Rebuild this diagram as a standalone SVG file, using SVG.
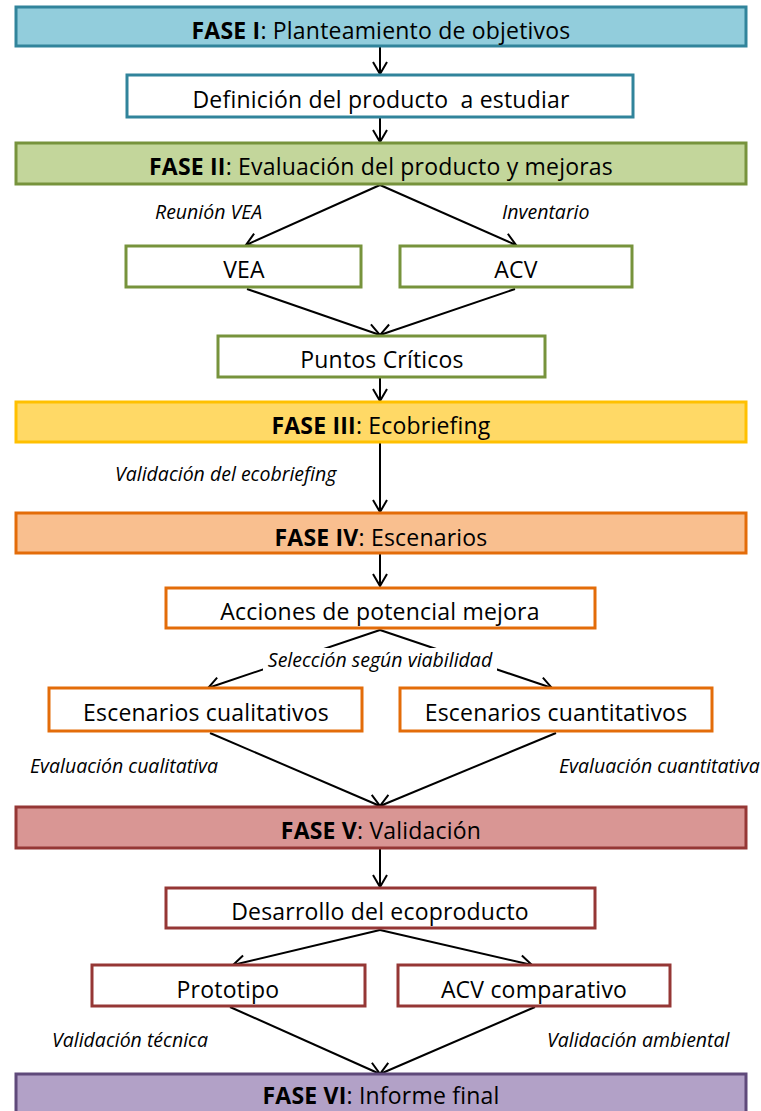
<svg xmlns="http://www.w3.org/2000/svg" width="761" height="1111" viewBox="0 0 761 1111">
<style>
.t{font-family:"Open Sans",Lato,sans-serif;font-size:23px;letter-spacing:0.2px;fill:#000;text-anchor:middle}
.b{font-weight:bold}
.l{font-family:"Open Sans",Lato,sans-serif;font-size:19.5px;font-style:italic;fill:#000}
.c{stroke:#000;stroke-width:2;fill:none}
.box{stroke-width:3}
</style>
<defs>
<marker id="ah" markerUnits="userSpaceOnUse" markerWidth="30" markerHeight="30" viewBox="-15 -15 30 30" refX="0" refY="0" orient="auto" overflow="visible">
<path d="M-12,-7 L0,0 L-12,7" fill="none" stroke="#000" stroke-width="2"/>
</marker>
</defs>
<g id="connectors">
<line class="c" x1="380" y1="46" x2="380" y2="74" marker-end="url(#ah)"/>
<line class="c" x1="380" y1="118" x2="380" y2="142" marker-end="url(#ah)"/>
<line class="c" x1="380" y1="185" x2="246" y2="245" marker-end="url(#ah)"/>
<line class="c" x1="380" y1="185" x2="516" y2="245" marker-end="url(#ah)"/>
<line class="c" x1="247" y1="289" x2="380" y2="335" marker-end="url(#ah)"/>
<line class="c" x1="515" y1="289" x2="380" y2="335" marker-end="url(#ah)"/>
<line class="c" x1="380" y1="378" x2="380" y2="401" marker-end="url(#ah)"/>
<line class="c" x1="380" y1="443" x2="380" y2="512" marker-end="url(#ah)"/>
<line class="c" x1="380" y1="554" x2="380" y2="586" marker-end="url(#ah)"/>
<line class="c" x1="380" y1="630" x2="208" y2="688" marker-end="url(#ah)"/>
<line class="c" x1="380" y1="630" x2="552" y2="688" marker-end="url(#ah)"/>
<line class="c" x1="210" y1="733" x2="380" y2="806" marker-end="url(#ah)"/>
<line class="c" x1="556" y1="733" x2="380" y2="806" marker-end="url(#ah)"/>
<line class="c" x1="380" y1="849" x2="380" y2="887" marker-end="url(#ah)"/>
<line class="c" x1="380" y1="930" x2="233" y2="965" marker-end="url(#ah)"/>
<line class="c" x1="380" y1="930" x2="532" y2="965" marker-end="url(#ah)"/>
<line class="c" x1="230" y1="1007" x2="380" y2="1074" marker-end="url(#ah)"/>
<line class="c" x1="535" y1="1007" x2="380" y2="1074" marker-end="url(#ah)"/>
</g>
<g id="labels">
<text class="l" x="155" y="219">Reunión VEA</text>
<text class="l" x="502" y="219">Inventario</text>
<text class="l" x="115" y="481">Validación del ecobriefing</text>
<rect x="263" y="648" width="234" height="24" fill="#fff"/>
<text class="l" x="380" y="667" text-anchor="middle">Selección según viabilidad</text>
<text class="l" x="30" y="773">Evaluación cualitativa</text>
<text class="l" x="559" y="773">Evaluación cuantitativa</text>
<text class="l" x="52" y="1047">Validación técnica</text>
<text class="l" x="547" y="1047">Validación ambiental</text>
</g>
<g id="fase1"><rect class="box" x="16" y="7" width="730" height="39" fill="#92CDDC" stroke="#31849B"/><text class="t" x="381" y="39"><tspan class="b">FASE I</tspan>: Planteamiento de objetivos</text></g>
<g id="definicion"><rect class="box" x="127" y="75" width="506" height="42" fill="#fff" stroke="#31849B"/><text class="t" x="381" y="108" xml:space="preserve">Definición del producto  a estudiar</text></g>
<g id="fase2"><rect class="box" x="16" y="143" width="730" height="41" fill="#C3D69B" stroke="#77933C"/><text class="t" x="381" y="175"><tspan class="b">FASE II</tspan>: Evaluación del producto y mejoras</text></g>
<g id="vea"><rect class="box" x="126" y="246" width="235" height="41" fill="#fff" stroke="#77933C"/><text class="t" x="244" y="278">VEA</text></g>
<g id="acv"><rect class="box" x="400" y="246" width="232" height="41" fill="#fff" stroke="#77933C"/><text class="t" x="516" y="278">ACV</text></g>
<g id="puntos"><rect class="box" x="218" y="336" width="327" height="41" fill="#fff" stroke="#77933C"/><text class="t" x="382" y="368">Puntos Críticos</text></g>
<g id="fase3"><rect class="box" x="16" y="402" width="730" height="40" fill="#FFD966" stroke="#FFC000"/><text class="t" x="381" y="434"><tspan class="b">FASE III</tspan>: Ecobriefing</text></g>
<g id="fase4"><rect class="box" x="16" y="513" width="730" height="40" fill="#F9BF8F" stroke="#E36C09"/><text class="t" x="381" y="546"><tspan class="b">FASE IV</tspan>: Escenarios</text></g>
<g id="acciones"><rect class="box" x="166" y="588" width="429" height="40" fill="#fff" stroke="#E36C09"/><text class="t" x="380" y="620">Acciones de potencial mejora</text></g>
<g id="cualitativos"><rect class="box" x="49" y="688" width="313" height="43" fill="#fff" stroke="#E36C09"/><text class="t" x="206" y="721">Escenarios cualitativos</text></g>
<g id="cuantitativos"><rect class="box" x="400" y="688" width="312" height="43" fill="#fff" stroke="#E36C09"/><text class="t" x="556" y="721">Escenarios cuantitativos</text></g>
<g id="fase5"><rect class="box" x="16" y="807" width="730" height="41" fill="#D99694" stroke="#953735"/><text class="t" x="381" y="839"><tspan class="b">FASE V</tspan>: Validación</text></g>
<g id="desarrollo"><rect class="box" x="166" y="888" width="429" height="40" fill="#fff" stroke="#953735"/><text class="t" x="380" y="920">Desarrollo del ecoproducto</text></g>
<g id="prototipo"><rect class="box" x="92" y="965" width="273" height="41" fill="#fff" stroke="#953735"/><text class="t" x="228" y="998">Prototipo</text></g>
<g id="acvcomp"><rect class="box" x="398" y="965" width="272" height="41" fill="#fff" stroke="#953735"/><text class="t" x="534" y="998">ACV comparativo</text></g>
<g id="fase6"><rect class="box" x="16" y="1074" width="730" height="45" fill="#B2A1C7" stroke="#5F497A"/><text class="t" x="381" y="1104"><tspan class="b">FASE VI</tspan>: Informe final</text></g>
</svg>
